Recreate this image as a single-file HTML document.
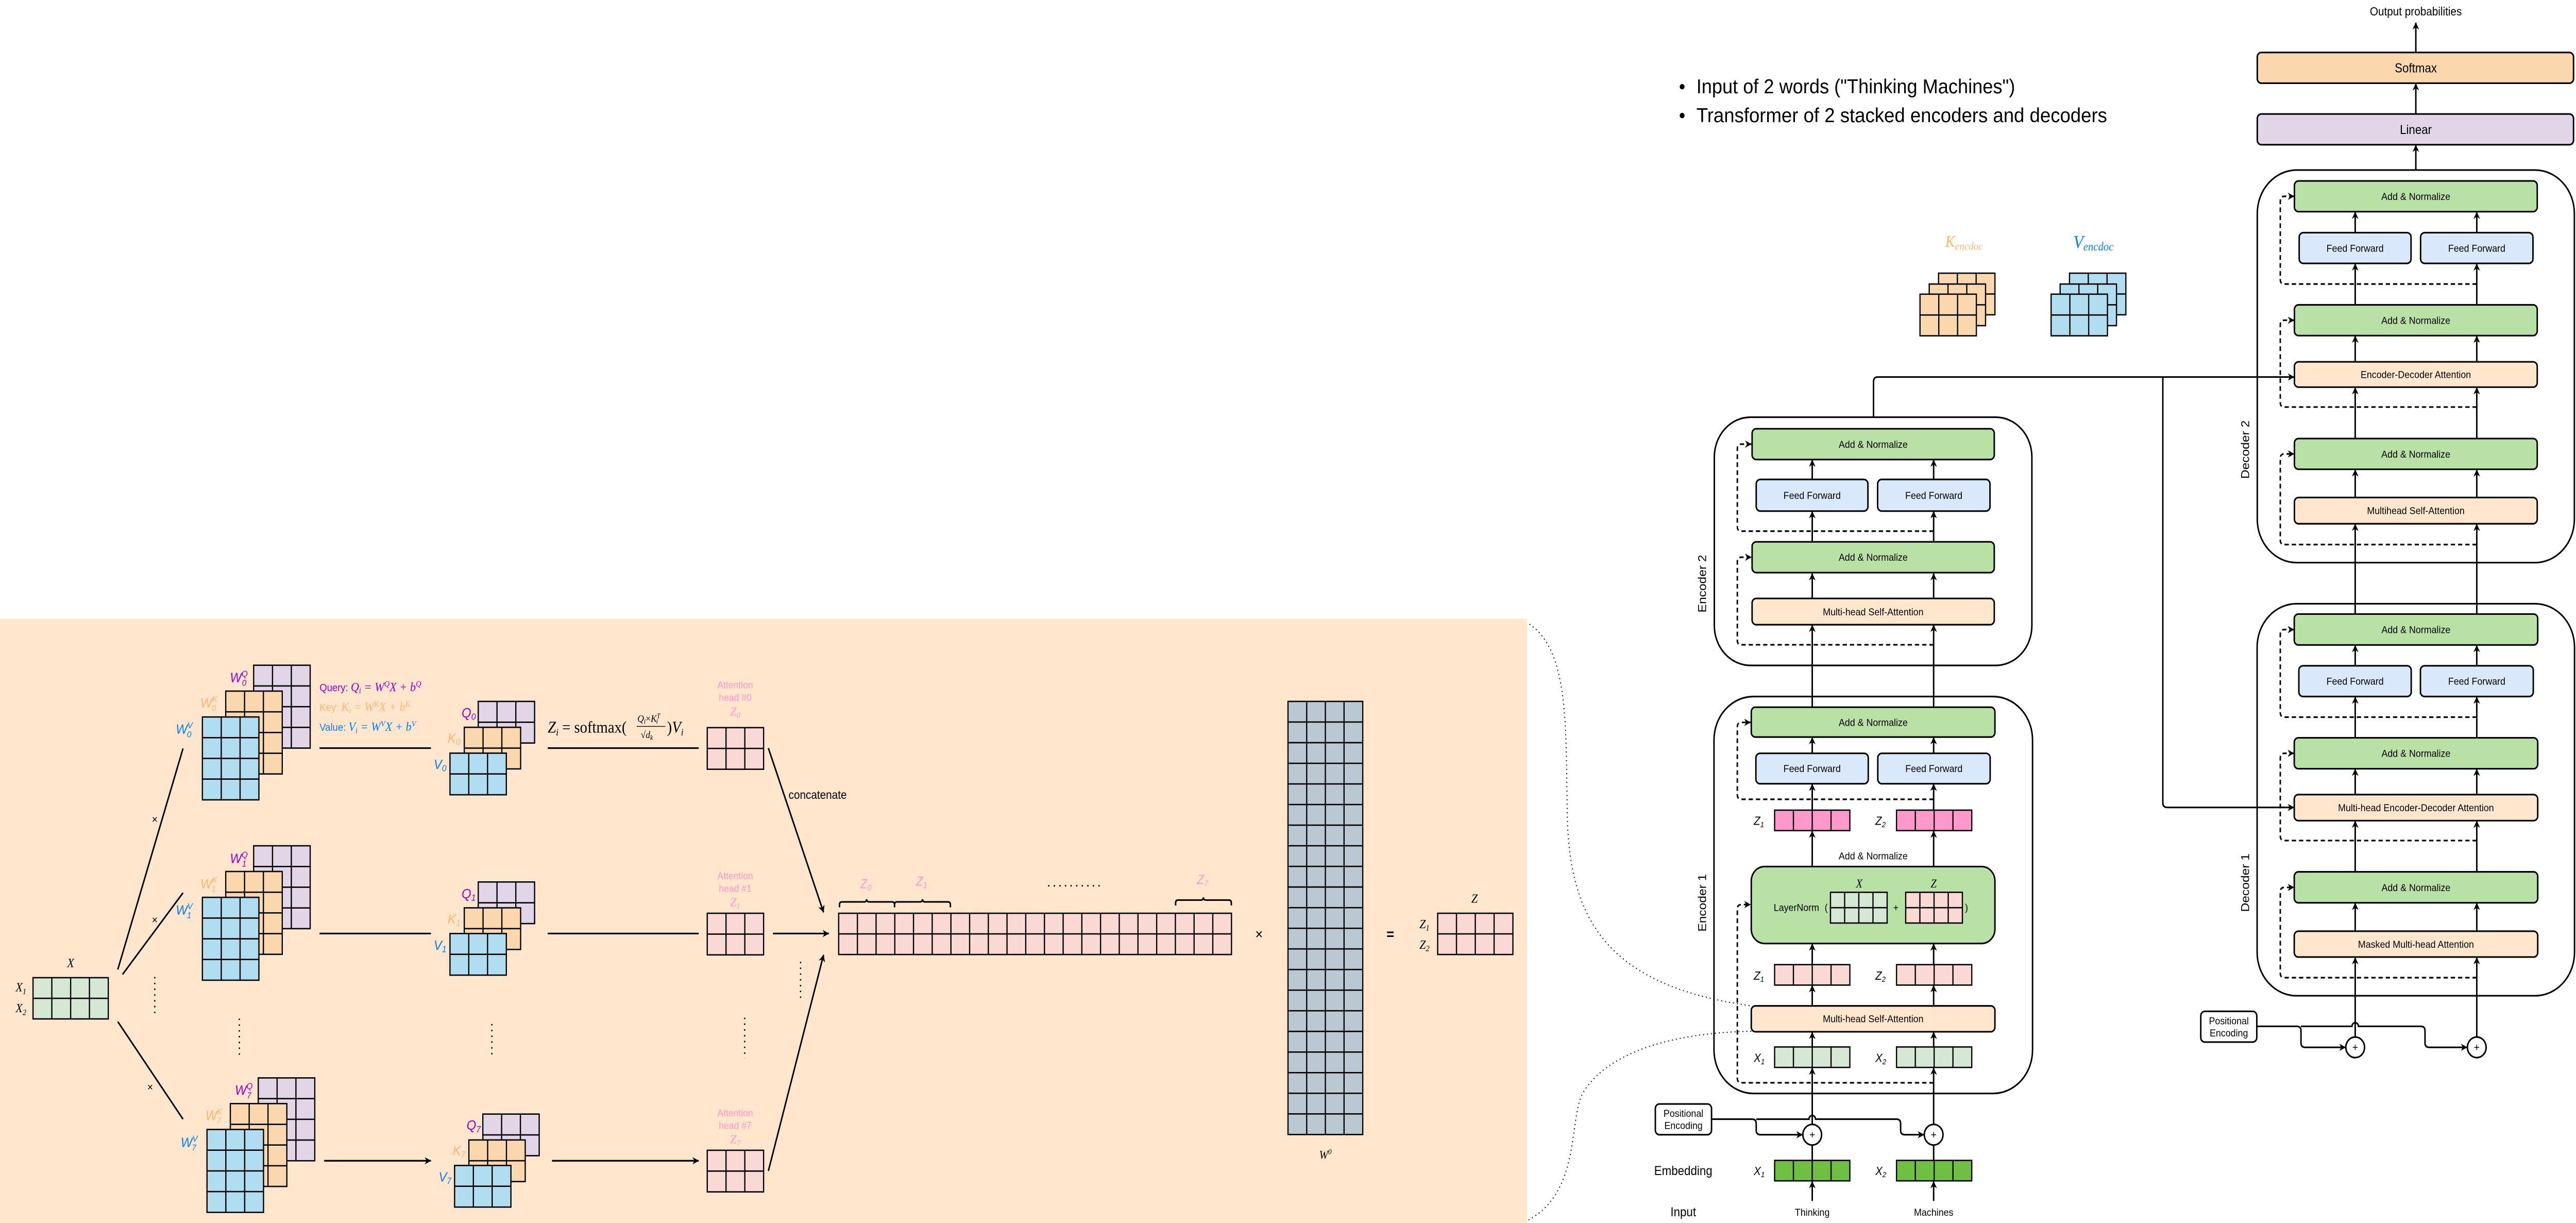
<!DOCTYPE html>
<html><head><meta charset="utf-8"><style>
html,body{margin:0;padding:0;background:#fff;width:100%;height:100%;overflow:hidden}
svg{display:block;position:absolute;left:0;top:0;width:100vw;height:100vh}
text{font-family:"Liberation Sans",sans-serif;fill:#000}
.m{font-family:"Liberation Serif",serif;font-style:italic}
.b{font-size:5.6px;text-anchor:middle}
.ln{stroke:#000;stroke-width:0.9;fill:none}
.d{stroke:#000;stroke-width:0.9;fill:none;stroke-dasharray:2.6,1.8}
.bx{stroke:#000;stroke-width:0.9}
.mx{stroke:#000;stroke-width:0.75}
</style></head><body>
<svg viewBox="0 0 1568 676" preserveAspectRatio="none" xmlns="http://www.w3.org/2000/svg">
<defs>
<marker id="a" viewBox="0 0 10 10" refX="9.5" refY="5" markerWidth="4" markerHeight="4" markerUnits="userSpaceOnUse" orient="auto"><path d="M0,0 L10,5 L0,10 L3,5z" fill="#000"/></marker>
<g id="g34"><rect width="34.4" height="45.8" class="mx"/><path class="mx" fill="none" d="M11.47,0V45.8M22.93,0V45.8M0,11.45H34.4M0,22.9H34.4M0,34.35H34.4"/></g>
<g id="g32"><rect width="34.3" height="23" class="mx"/><path class="mx" fill="none" d="M11.43,0V23M22.87,0V23M0,11.5H34.3"/></g>
<g id="g42"><rect width="45.8" height="22.8" class="mx"/><path class="mx" fill="none" d="M11.45,0V22.8M22.9,0V22.8M34.35,0V22.8M0,11.4H45.8"/></g>
<g id="g41"><rect width="45.8" height="11.3" class="mx"/><path class="mx" fill="none" d="M11.45,0V11.3M22.9,0V11.3M34.35,0V11.3"/></g>
<g id="gln"><rect width="34.5" height="17" class="mx"/><path class="mx" fill="none" d="M8.625,0V17M17.25,0V17M25.875,0V17M0,8.5H34.5"/></g>
</defs>

<rect x="0" y="342" width="929.5" height="334" fill="#ffe6cc"/>

<use href="#g42" x="20.1" y="540.4" fill="#d5e8d4"/>
<text class="m" x="43" y="534.5" font-size="7" text-anchor="middle">X</text>
<text class="m" x="9.5" y="548" font-size="7">X<tspan font-size="4.5" dy="1.5">1</tspan></text>
<text class="m" x="9.5" y="559.5" font-size="7">X<tspan font-size="4.5" dy="1.5">2</tspan></text>

<path class="ln" d="M71.7,535.9L111.4,413.7M74.6,538.6L111.4,493.5M71.7,564.7L111.4,618.6"/>
<text x="94.2" y="455" font-size="6" text-anchor="middle">×</text>
<text x="94.2" y="510.5" font-size="6" text-anchor="middle">×</text>
<text x="91.4" y="603" font-size="6" text-anchor="middle">×</text>
<path d="M94.2,540V562M145.7,563V585M299.4,566V585M487.3,531.6V553M453.3,562.5V585" stroke="#000" stroke-width="0.8" stroke-dasharray="0.8,2.4"/>

<use href="#g34" x="154.4" y="367.7" fill="#e1d5e7"/><use href="#g34" x="137.4" y="382" fill="#fad7ac"/><use href="#g34" x="123.2" y="396.3" fill="#b1ddf0"/>
<use href="#g34" x="154.4" y="467.5" fill="#e1d5e7"/><use href="#g34" x="137.4" y="481.7" fill="#fad7ac"/><use href="#g34" x="123.2" y="496" fill="#b1ddf0"/>
<use href="#g34" x="157.2" y="595.8" fill="#e1d5e7"/><use href="#g34" x="140.2" y="610" fill="#fad7ac"/><use href="#g34" x="126" y="624.3" fill="#b1ddf0"/>
<g class="m" font-size="7.5">
<text x="140" y="377" style="fill:#9900cc">W<tspan font-size="4.8" dy="-3">Q</tspan><tspan font-size="4.8" dx="-3.5" dy="5">0</tspan></text>
<text x="122" y="391" style="fill:#ffb570">W<tspan font-size="4.8" dy="-3">K</tspan><tspan font-size="4.8" dx="-3.5" dy="5">0</tspan></text>
<text x="107" y="405.5" style="fill:#007fff">W<tspan font-size="4.8" dy="-3">V</tspan><tspan font-size="4.8" dx="-3.5" dy="5">0</tspan></text>
<text x="140" y="477" style="fill:#9900cc">W<tspan font-size="4.8" dy="-3">Q</tspan><tspan font-size="4.8" dx="-3.5" dy="5">1</tspan></text>
<text x="122" y="491" style="fill:#ffb570">W<tspan font-size="4.8" dy="-3">K</tspan><tspan font-size="4.8" dx="-3.5" dy="5">1</tspan></text>
<text x="107" y="505.5" style="fill:#007fff">W<tspan font-size="4.8" dy="-3">V</tspan><tspan font-size="4.8" dx="-3.5" dy="5">1</tspan></text>
<text x="143" y="605" style="fill:#9900cc">W<tspan font-size="4.8" dy="-3">Q</tspan><tspan font-size="4.8" dx="-3.5" dy="5">7</tspan></text>
<text x="125" y="619" style="fill:#ffb570">W<tspan font-size="4.8" dy="-3">K</tspan><tspan font-size="4.8" dx="-3.5" dy="5">7</tspan></text>
<text x="110" y="634" style="fill:#007fff">W<tspan font-size="4.8" dy="-3">V</tspan><tspan font-size="4.8" dx="-3.5" dy="5">7</tspan></text>
</g>
<g font-size="5.8">
<text x="194.5" y="382" style="fill:#9900cc">Query: <tspan class="m" font-size="7">Q<tspan font-size="4.5" dy="1.2">i</tspan><tspan dy="-1.2"> = W</tspan><tspan font-size="4.5" dy="-2.5">Q</tspan><tspan dy="2.5">X + b</tspan><tspan font-size="4.5" dy="-2.5">Q</tspan></tspan></text>
<text x="194.5" y="393" style="fill:#ffb570">Key: <tspan class="m" font-size="7">K<tspan font-size="4.5" dy="1.2">i</tspan><tspan dy="-1.2"> = W</tspan><tspan font-size="4.5" dy="-2.5">K</tspan><tspan dy="2.5">X + b</tspan><tspan font-size="4.5" dy="-2.5">K</tspan></tspan></text>
<text x="194.5" y="404" style="fill:#007fff">Value: <tspan class="m" font-size="7">V<tspan font-size="4.5" dy="1.2">i</tspan><tspan dy="-1.2"> = W</tspan><tspan font-size="4.5" dy="-2.5">V</tspan><tspan dy="2.5">X + b</tspan><tspan font-size="4.5" dy="-2.5">V</tspan></tspan></text>
</g>
<path class="ln" marker-end="url(#a)" d="M194.5,413.5H262.3M194.5,516H262.3M197.3,641.6H262.3"/>

<use href="#g32" x="291.1" y="387.7" fill="#e1d5e7"/><use href="#g32" x="282.6" y="402" fill="#fad7ac"/><use href="#g32" x="273.9" y="416.3" fill="#b1ddf0"/>
<use href="#g32" x="291.1" y="487.5" fill="#e1d5e7"/><use href="#g32" x="282.6" y="501.8" fill="#fad7ac"/><use href="#g32" x="273.9" y="516" fill="#b1ddf0"/>
<use href="#g32" x="293.9" y="615.8" fill="#e1d5e7"/><use href="#g32" x="285.4" y="630.1" fill="#fad7ac"/><use href="#g32" x="276.7" y="644.2" fill="#b1ddf0"/>
<g class="m" font-size="7.5">
<text x="281" y="396.5" style="fill:#9900cc">Q<tspan font-size="5" dy="1.3">0</tspan></text>
<text x="272.5" y="410.5" style="fill:#ffb570">K<tspan font-size="5" dy="1.3">0</tspan></text>
<text x="264" y="425" style="fill:#007fff">V<tspan font-size="5" dy="1.3">0</tspan></text>
<text x="281" y="496.5" style="fill:#9900cc">Q<tspan font-size="5" dy="1.3">1</tspan></text>
<text x="272.5" y="510.5" style="fill:#ffb570">K<tspan font-size="5" dy="1.3">1</tspan></text>
<text x="264" y="525" style="fill:#007fff">V<tspan font-size="5" dy="1.3">1</tspan></text>
<text x="284" y="624.5" style="fill:#9900cc">Q<tspan font-size="5" dy="1.3">7</tspan></text>
<text x="275.5" y="638.5" style="fill:#ffb570">K<tspan font-size="5" dy="1.3">7</tspan></text>
<text x="267" y="653" style="fill:#007fff">V<tspan font-size="5" dy="1.3">7</tspan></text>
</g>

<text class="m" x="333.4" y="405" font-size="9">Z<tspan font-size="5.5" dy="1.5">i</tspan><tspan dy="-1.5" style="font-style:normal"> = softmax(</tspan></text>
<text class="m" x="388" y="399" font-size="5.5">Q<tspan font-size="3.8" dy="1">i</tspan><tspan dy="-1" style="font-style:normal">×</tspan>K<tspan font-size="3.8" dy="-2">T</tspan><tspan font-size="3.8" dx="-2.5" dy="3">i</tspan></text>
<path d="M387.5,401.5H405" stroke="#000" stroke-width="0.4"/>
<text class="m" x="390" y="408" font-size="5.5"><tspan style="font-style:normal">√</tspan>d<tspan font-size="3.8" dy="1">k</tspan></text>
<text class="m" x="406" y="405" font-size="9"><tspan style="font-style:normal">)</tspan>V<tspan font-size="5.5" dy="1.5">i</tspan></text>
<path class="ln" marker-end="url(#a)" d="M333.4,413.5H425.3M333.4,516H425.3M336,641.6H425.3"/>

<g font-size="5.5" text-anchor="middle">
<text x="447.5" y="380.5" style="fill:#ff99cc">Attention</text><text x="447.5" y="387.5" style="fill:#ff99cc">head #0</text>
<text class="m" x="447.5" y="395.5" font-size="7" style="fill:#ff99cc">Z<tspan font-size="4.5" dy="1.3">0</tspan></text>
<text x="447.5" y="486" style="fill:#ff99cc">Attention</text><text x="447.5" y="493" style="fill:#ff99cc">head #1</text>
<text class="m" x="447.5" y="501" font-size="7" style="fill:#ff99cc">Z<tspan font-size="4.5" dy="1.3">1</tspan></text>
<text x="447.5" y="617" style="fill:#ff99cc">Attention</text><text x="447.5" y="624" style="fill:#ff99cc">head #7</text>
<text class="m" x="447.5" y="632" font-size="7" style="fill:#ff99cc">Z<tspan font-size="4.5" dy="1.3">7</tspan></text>
</g>
<use href="#g32" x="430.5" y="402.2" fill="#fad9d5"/>
<use href="#g32" x="430.5" y="504.8" fill="#fad9d5"/>
<use href="#g32" x="430.5" y="635.8" fill="#fad9d5"/>
<path class="ln" marker-end="url(#a)" d="M470.5,516H504.5"/>
<path class="ln" stroke-width="0.7" marker-end="url(#a)" d="M467.7,413.5L501.3,504.3"/>
<path class="ln" stroke-width="0.7" marker-end="url(#a)" d="M467.7,647.2L501.3,527.8"/>
<text x="480" y="441.5" font-size="6.5">concatenate</text>

<rect x="510.5" y="504.8" width="239.1" height="22.8" fill="#fad9d5" class="mx"/>
<path class="mx" fill="none" d="M521.89,504.8v22.8M533.27,504.8v22.8M544.66,504.8v22.8M556.04,504.8v22.8M567.43,504.8v22.8M578.82,504.8v22.8M590.2,504.8v22.8M601.59,504.8v22.8M612.97,504.8v22.8M624.36,504.8v22.8M635.75,504.8v22.8M647.13,504.8v22.8M658.52,504.8v22.8M669.9,504.8v22.8M681.29,504.8v22.8M692.68,504.8v22.8M704.06,504.8v22.8M715.45,504.8v22.8M726.83,504.8v22.8M738.22,504.8v22.8M510.5,516.2H749.6"/>
<path class="ln" stroke-width="0.8" d="M511,501.5V500q0-1.5,1.5-1.5H526q1.5,0,1.5-1.5q0,1.5,1.5,1.5H543q1.5,0,1.5,1.5v1.5M544.5,501.5V500q0-1.5,1.5-1.5H560q1.5,0,1.5-1.5q0,1.5,1.5,1.5H577q1.5,0,1.5,1.5v1.5M715.6,500.5V499q0-1.5,1.5-1.5H731q1.5,0,1.5-1.5q0,1.5,1.5,1.5H748q1.5,0,1.5,1.5v1.5"/>
<g class="m" font-size="7" text-anchor="middle">
<text x="527" y="491" style="fill:#ff99cc">Z<tspan font-size="4.5" dy="1.3">0</tspan></text>
<text x="561" y="489.5" style="fill:#ff99cc">Z<tspan font-size="4.5" dy="1.3">1</tspan></text>
<text x="732" y="488.5" style="fill:#ff99cc">Z<tspan font-size="4.5" dy="1.3">7</tspan></text>
</g>
<path d="M638,489.6H670" stroke="#000" stroke-width="0.8" stroke-dasharray="0.8,2.6"/>
<text x="766.4" y="519" font-size="8" text-anchor="middle">×</text>

<rect x="784" y="387.7" width="45.5" height="239.4" fill="#bac8d3" class="mx"/>
<path class="mx" fill="none" d="M795.375,387.7V627.1M806.75,387.7V627.1M818.125,387.7V627.1M784,399.1h45.5M784,410.5h45.5M784,421.9h45.5M784,433.3h45.5M784,444.7h45.5M784,456.1h45.5M784,467.5h45.5M784,478.9h45.5M784,490.3h45.5M784,501.7h45.5M784,513.1h45.5M784,524.5h45.5M784,535.9h45.5M784,547.3h45.5M784,558.7h45.5M784,570.1h45.5M784,581.5h45.5M784,592.9h45.5M784,604.3h45.5M784,615.7h45.5"/>
<text class="m" x="803" y="640.5" font-size="6.5">W<tspan font-size="4.2" dy="-2.5">0</tspan></text>
<text x="846.3" y="519" font-size="8" text-anchor="middle" font-weight="bold">=</text>
<use href="#g42" x="875.1" y="504.8" fill="#fad9d5"/>
<text class="m" x="897.5" y="499" font-size="7" text-anchor="middle">Z</text>
<text class="m" x="864" y="513" font-size="7">Z<tspan font-size="4.5" dy="1.3">1</tspan></text>
<text class="m" x="864" y="524.5" font-size="7">Z<tspan font-size="4.5" dy="1.3">2</tspan></text>

<path d="M931,345 C955,360 953,400 954,450 C955,510 980,545 1066,556" fill="none" stroke="#000" stroke-width="0.6" stroke-dasharray="0.6,1.8"/>
<path d="M1066,570 C1010,571 975,585 963,605 C955,620 962,660 929,675" fill="none" stroke="#000" stroke-width="0.6" stroke-dasharray="0.6,1.8"/>

<text x="1022" y="51.5" font-size="11">•</text>
<text x="1032.6" y="51.5" font-size="11" textLength="194" lengthAdjust="spacingAndGlyphs">Input of 2 words ("Thinking Machines")</text>
<text x="1022" y="67.5" font-size="11">•</text>
<text x="1032.6" y="67.5" font-size="11" textLength="250" lengthAdjust="spacingAndGlyphs">Transformer of 2 stacked encoders and decoders</text>

<text class="m" x="1184" y="136.5" font-size="9" style="fill:#ffb570">K<tspan font-size="6" dy="1.5">encdoc</tspan></text>
<text class="m" x="1262" y="137" font-size="10" style="fill:#007fff">V<tspan font-size="6.5" dy="1.5">encdoc</tspan></text>
<use href="#g32" x="1180" y="151" fill="#fad7ac"/><use href="#g32" x="1174.3" y="157" fill="#fad7ac"/><use href="#g32" x="1168.7" y="162.6" fill="#fad7ac"/>
<use href="#g32" x="1259.7" y="151" fill="#b1ddf0"/><use href="#g32" x="1254" y="157" fill="#b1ddf0"/><use href="#g32" x="1248.5" y="162.6" fill="#b1ddf0"/>

<rect x="1043.5" y="230.6" width="193.3" height="137.2" rx="22" fill="none" class="bx"/>
<rect x="1043.3" y="385" width="193.9" height="219.4" rx="24" fill="none" class="bx"/>
<rect x="1374" y="94" width="193" height="217" rx="24" fill="none" class="bx"/>
<rect x="1373.9" y="333.7" width="193.2" height="216.7" rx="24" fill="none" class="bx"/>
<g font-size="7" text-anchor="middle">
<text transform="translate(1038.5,322.6) rotate(-90)">Encoder 2</text>
<text transform="translate(1038.5,499) rotate(-90)">Encoder 1</text>
<text transform="translate(1369,248.5) rotate(-90)">Decoder 2</text>
<text transform="translate(1369,487.9) rotate(-90)">Decoder 1</text>
</g>

<g class="ln" marker-end="url(#a)">
<path d="M1103.1,663.8V653"/><path d="M1177,663.8V653"/>
<path d="M1103.1,621.5V590.3"/><path d="M1177,621.5V590.3"/>
<path d="M1103.1,590V570.5"/><path d="M1177,590V570.5"/>
<path d="M1103.1,556V544.7"/><path d="M1177,556V544.7"/>
<path d="M1103.1,544.5V521.7"/><path d="M1177,544.5V521.7"/>
<path d="M1103.1,479V459.3"/><path d="M1177,479V459.3"/>
<path d="M1103.1,459V433.4"/><path d="M1177,459V433.4"/>
<path d="M1103.1,416.4V407.6"/><path d="M1177,416.4V407.6"/>
<path d="M1103.1,390.9V345.5"/><path d="M1177,390.9V345.5"/>
<path d="M1103.1,330.8V317"/><path d="M1177,330.8V317"/>
<path d="M1103.1,299.5V282.7"/><path d="M1177,299.5V282.7"/>
<path d="M1103.1,265V254.2"/><path d="M1177,265V254.2"/>
</g>
<path class="ln" d="M1103.1,641.4V632.9M1177,641.4V632.9"/>
<g class="d" marker-end="url(#a)">
<path d="M1177,598.5H1060q-2.5,0-2.5,-2.5V502.5q0-2.5,2.5-2.5H1065.5"/>
<path d="M1177,441.8H1060q-2.5,0-2.5,-2.5V401.8q0-2.5,2.5-2.5H1065.5"/>
<path d="M1177,356.4H1060q-2.5,0-2.5,-2.5V310.5q0-2.5,2.5-2.5H1066"/>
<path d="M1177,293.6H1060q-2.5,0-2.5,-2.5V248q0-2.5,2.5-2.5H1066"/>
</g>
<rect x="1007.6" y="610.2" width="34.2" height="17" rx="2.5" fill="#fff" class="bx"/>
<text class="b" x="1024.7" y="617.3">Positional</text><text class="b" x="1024.7" y="624">Encoding</text>
<path class="ln" marker-end="url(#a)" d="M1041.8,618.6H1066.5q2.5,0,2.5,2.5V624.7q0,2.5,2.5,2.5H1097.2"/>
<path class="ln" marker-end="url(#a)" d="M1069,618.6H1101.1a2,2 0 0 1 4,0H1154.4q2.5,0,2.5,2.5V624.7q0,2.5,2.5,2.5H1171.1"/>
<circle cx="1103.1" cy="627.2" r="5.7" fill="#fff" class="bx"/><text x="1103.1" y="629.3" font-size="6" text-anchor="middle">+</text>
<circle cx="1177" cy="627.2" r="5.7" fill="#fff" class="bx"/><text x="1177" y="629.3" font-size="6" text-anchor="middle">+</text>

<rect x="1066.5" y="237" width="147.4" height="17" rx="2.5" fill="#b9e0a5" class="bx"/><text class="b" x="1140.2" y="247.5">Add &amp; Normalize</text>
<rect x="1069" y="265" width="68" height="17.5" rx="2.5" fill="#dae8fc" class="bx"/><text class="b" x="1103" y="275.7">Feed Forward</text>
<rect x="1142.9" y="265" width="68.4" height="17.5" rx="2.5" fill="#dae8fc" class="bx"/><text class="b" x="1177.1" y="275.7">Feed Forward</text>
<rect x="1066.5" y="299.5" width="147.4" height="17" rx="2.5" fill="#b9e0a5" class="bx"/><text class="b" x="1140.2" y="310">Add &amp; Normalize</text>
<rect x="1066.5" y="330.8" width="147.4" height="14.5" rx="2.5" fill="#ffe6cc" class="bx"/><text class="b" x="1140.2" y="340.1">Multi-head Self-Attention</text>

<rect x="1066" y="390.9" width="148.3" height="16.5" rx="2.5" fill="#b9e0a5" class="bx"/><text class="b" x="1140.2" y="401.2">Add &amp; Normalize</text>
<rect x="1068.8" y="416.4" width="68.4" height="16.8" rx="2.5" fill="#dae8fc" class="bx"/><text class="b" x="1103" y="426.8">Feed Forward</text>
<rect x="1143" y="416.4" width="68.4" height="16.8" rx="2.5" fill="#dae8fc" class="bx"/><text class="b" x="1177.2" y="426.8">Feed Forward</text>
<use href="#g41" x="1080.2" y="447.8" fill="#ff99cc"/><use href="#g41" x="1154.4" y="447.8" fill="#ff99cc"/>
<text class="b" x="1140.2" y="475">Add &amp; Normalize</text>
<rect x="1066" y="479" width="148.3" height="42.5" rx="8" fill="#b9e0a5" class="bx"/>
<text x="1093.5" y="503.5" font-size="5.6" text-anchor="middle">LayerNorm</text>
<text x="1111.6" y="503.5" font-size="5.6" text-anchor="middle">(</text>
<use href="#gln" x="1114.2" y="493.2" fill="#d5e8d4"/>
<text x="1154" y="503.5" font-size="5.6" text-anchor="middle">+</text>
<use href="#gln" x="1160" y="493.2" fill="#fad9d5"/>
<text x="1197" y="503.5" font-size="5.6" text-anchor="middle">)</text>
<text class="m" x="1131.7" y="490.5" font-size="6.5" text-anchor="middle">X</text>
<text class="m" x="1177" y="490.5" font-size="6.5" text-anchor="middle">Z</text>
<use href="#g41" x="1080.2" y="533.2" fill="#fad9d5"/><use href="#g41" x="1154.4" y="533.2" fill="#fad9d5"/>
<rect x="1066" y="556" width="148.3" height="14.3" rx="2.5" fill="#ffe6cc" class="bx"/><text class="b" x="1140.2" y="565.1">Multi-head Self-Attention</text>
<use href="#g41" x="1080.2" y="578.7" fill="#d5e8d4"/><use href="#g41" x="1154.4" y="578.7" fill="#d5e8d4"/>
<use href="#g41" x="1080.2" y="641.4" fill="#6fbf45"/><use href="#g41" x="1154.4" y="641.4" fill="#6fbf45"/>
<g class="m" font-size="6.5">
<text x="1067.5" y="456">Z<tspan font-size="4.2" dy="1.2">1</tspan></text><text x="1141.5" y="456">Z<tspan font-size="4.2" dy="1.2">2</tspan></text>
<text x="1067.5" y="541.5">Z<tspan font-size="4.2" dy="1.2">1</tspan></text><text x="1141.5" y="541.5">Z<tspan font-size="4.2" dy="1.2">2</tspan></text>
<text x="1067.5" y="587">X<tspan font-size="4.2" dy="1.2">1</tspan></text><text x="1141.5" y="587">X<tspan font-size="4.2" dy="1.2">2</tspan></text>
<text x="1067.5" y="649.5">X<tspan font-size="4.2" dy="1.2">1</tspan></text><text x="1141.5" y="649.5">X<tspan font-size="4.2" dy="1.2">2</tspan></text>
</g>
<text x="1024.6" y="649.5" font-size="7" text-anchor="middle">Embedding</text>
<text x="1024.6" y="672.3" font-size="7" text-anchor="middle">Input</text>
<text x="1103.1" y="672" font-size="5.6" text-anchor="middle">Thinking</text>
<text x="1177" y="672" font-size="5.6" text-anchor="middle">Machines</text>

<path class="ln" marker-end="url(#a)" d="M1140.4,230.6V211q0-2.6,2.6-2.6H1396.4"/>
<path class="ln" marker-end="url(#a)" d="M1316.5,208.4V443.7q0,2.6,2.6,2.6H1396.3"/>

<g class="ln" marker-end="url(#a)">
<path d="M1433.6,573.2V529.2"/><path d="M1507.6,573.2V529.2"/>
<path d="M1433.6,514.7V499.2"/><path d="M1507.6,514.7V499.2"/>
<path d="M1433.6,481.9V453.8"/><path d="M1507.6,481.9V453.8"/>
<path d="M1433.6,439.2V425.1"/><path d="M1507.6,439.2V425.1"/>
<path d="M1433.6,407.8V385.2"/><path d="M1507.6,407.8V385.2"/>
<path d="M1433.6,368V356.7"/><path d="M1507.6,368V356.7"/>
<path d="M1433.6,339.4V289.7"/><path d="M1507.6,339.4V289.7"/>
<path d="M1433.6,275V259.6"/><path d="M1507.6,275V259.6"/>
<path d="M1433.6,242.4V214.2"/><path d="M1507.6,242.4V214.2"/>
<path d="M1433.6,200V185.7"/><path d="M1507.6,200V185.7"/>
<path d="M1433.6,168.5V145.8"/><path d="M1507.6,168.5V145.8"/>
<path d="M1433.6,128.6V117.2"/><path d="M1507.6,128.6V117.2"/>
<path d="M1470.5,94V80.2"/><path d="M1470.5,63V46.2"/><path d="M1470.5,29V12.5"/>
</g>
<g class="d" marker-end="url(#a)">
<path d="M1507.6,540.4H1390.5q-2.5,0-2.5,-2.5V493q0-2.5,2.5-2.5H1396.3"/>
<path d="M1507.6,464.6H1390.5q-2.5,0-2.5,-2.5V418.9q0-2.5,2.5-2.5H1396.3"/>
<path d="M1507.6,396.4H1390.5q-2.5,0-2.5,-2.5V350.5q0-2.5,2.5-2.5H1396.3"/>
<path d="M1507.6,301H1390.5q-2.5,0-2.5,-2.5V253.4q0-2.5,2.5-2.5H1396.4"/>
<path d="M1507.6,225H1390.5q-2.5,0-2.5,-2.5V179.5q0-2.5,2.5-2.5H1396.4"/>
<path d="M1507.6,157H1390.5q-2.5,0-2.5,-2.5V111q0-2.5,2.5-2.5H1396.4"/>
</g>
<rect x="1339.6" y="559" width="34.1" height="17" rx="2.5" fill="#fff" class="bx"/>
<text class="b" x="1356.7" y="566.2">Positional</text><text class="b" x="1356.7" y="572.9">Encoding</text>
<path class="ln" marker-end="url(#a)" d="M1373.7,567.3H1398.1q2.5,0,2.5,2.5V576.4q0,2.5,2.5,2.5H1427.7"/>
<path class="ln" marker-end="url(#a)" d="M1400.6,567.3H1431.6a2,2 0 0 1 4,0H1473.6q2.5,0,2.5,2.5V576.4q0,2.5,2.5,2.5H1501.7"/>
<circle cx="1433.6" cy="578.9" r="5.7" fill="#fff" class="bx"/><text x="1433.6" y="581" font-size="6" text-anchor="middle">+</text>
<circle cx="1507.6" cy="578.9" r="5.7" fill="#fff" class="bx"/><text x="1507.6" y="581" font-size="6" text-anchor="middle">+</text>

<rect x="1396.5" y="339.4" width="148.2" height="17.1" rx="2.5" fill="#b9e0a5" class="bx"/><text class="b" x="1470.6" y="350">Add &amp; Normalize</text>
<rect x="1399.3" y="368" width="68.4" height="17" rx="2.5" fill="#dae8fc" class="bx"/><text class="b" x="1433.5" y="378.5">Feed Forward</text>
<rect x="1473.3" y="368" width="68.7" height="17" rx="2.5" fill="#dae8fc" class="bx"/><text class="b" x="1507.6" y="378.5">Feed Forward</text>
<rect x="1396.5" y="407.8" width="148.2" height="17.1" rx="2.5" fill="#b9e0a5" class="bx"/><text class="b" x="1470.6" y="418.4">Add &amp; Normalize</text>
<rect x="1396.5" y="439.2" width="148.2" height="14.4" rx="2.5" fill="#ffe6cc" class="bx"/><text class="b" x="1470.6" y="448.4">Multi-head Encoder-Decoder Attention</text>
<rect x="1396.5" y="481.9" width="148.2" height="17.1" rx="2.5" fill="#b9e0a5" class="bx"/><text class="b" x="1470.6" y="492.5">Add &amp; Normalize</text>
<rect x="1396.5" y="514.7" width="148.2" height="14.3" rx="2.5" fill="#ffe6cc" class="bx"/><text class="b" x="1470.6" y="523.9">Masked Multi-head Attention</text>

<rect x="1396.6" y="100" width="147.8" height="17" rx="2.5" fill="#b9e0a5" class="bx"/><text class="b" x="1470.5" y="110.5">Add &amp; Normalize</text>
<rect x="1399.5" y="128.6" width="68.1" height="17" rx="2.5" fill="#dae8fc" class="bx"/><text class="b" x="1433.5" y="139.1">Feed Forward</text>
<rect x="1473.4" y="128.6" width="68.4" height="17" rx="2.5" fill="#dae8fc" class="bx"/><text class="b" x="1507.6" y="139.1">Feed Forward</text>
<rect x="1396.6" y="168.5" width="147.8" height="17" rx="2.5" fill="#b9e0a5" class="bx"/><text class="b" x="1470.5" y="179">Add &amp; Normalize</text>
<rect x="1396.6" y="200" width="147.8" height="14" rx="2.5" fill="#ffe6cc" class="bx"/><text class="b" x="1470.5" y="209">Encoder-Decoder Attention</text>
<rect x="1396.6" y="242.4" width="147.8" height="17" rx="2.5" fill="#b9e0a5" class="bx"/><text class="b" x="1470.5" y="252.9">Add &amp; Normalize</text>
<rect x="1396.6" y="275" width="147.8" height="14.5" rx="2.5" fill="#ffe6cc" class="bx"/><text class="b" x="1470.5" y="284.2">Multihead Self-Attention</text>

<rect x="1374" y="63" width="192.5" height="17" rx="2.5" fill="#e1d5e7" class="bx"/><text x="1470.5" y="74" font-size="7" text-anchor="middle">Linear</text>
<rect x="1374" y="29" width="192.5" height="17" rx="2.5" fill="#fad7ac" class="bx"/><text x="1470.5" y="40" font-size="7" text-anchor="middle">Softmax</text>
<text x="1470.5" y="8.5" font-size="6.5" text-anchor="middle">Output probabilities</text>
</svg>
</body></html>
